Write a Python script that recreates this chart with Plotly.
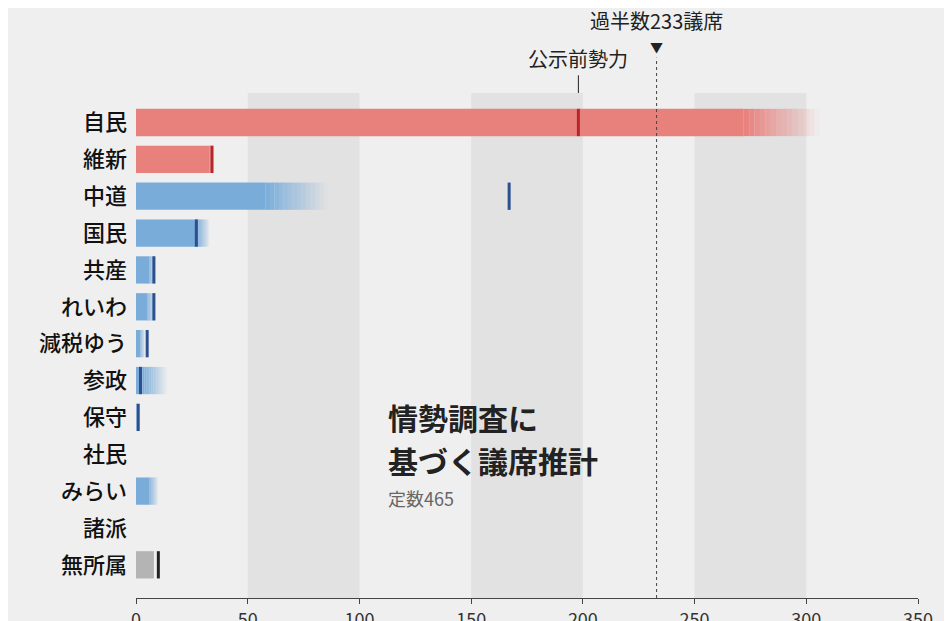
import plotly.graph_objects as go

parties = ["自民","維新","中道","国民","共産","れいわ","減税ゆう","参政","保守","社民","みらい","諸派","無所属"]
low  = [272, 33, 58, 28, 6, 5, 2, 3, 0, 0, 6, 0, 8]
high = [306, 35, 86, 33, 9, 9, 4, 14, 1, 0, 10, 0, 8]
prior = [198, 34, 167, 27, 8, 8, 5, 2, 1, None, None, None, 10]
kind = ["r","r","b","b","b","b","b","b","b","b","b","b","g"]
majority = 233
xticks = [0,50,100,150,200,250,300,350]

fill = {"r":"232,128,124","b":"122,172,218","g":"180,180,180"}
mark = {"r":"#b8262a","b":"#2b4f8f","g":"#222222"}

fig = go.Figure()
ys = list(range(len(parties)))
fig.add_trace(go.Bar(y=ys, x=low, orientation="h", width=0.74,
    marker=dict(color=["rgb(%s)" % fill[k] for k in kind], line=dict(width=0)), hoverinfo="skip"))
N = 14
for s in range(N):
    bases, widths, cols = [], [], []
    for i in range(len(parties)):
        d = (high[i]-low[i])/N
        bases.append(low[i]+s*d); widths.append(d)
        a = 1 - (s+0.5)/N
        cols.append("rgba(%s,%.3f)" % (fill[kind[i]], a))
    fig.add_trace(go.Bar(y=ys, x=widths, base=bases, orientation="h", width=0.74,
        marker=dict(color=cols, line=dict(width=0)), hoverinfo="skip"))
for i, p in enumerate(prior):
    if p is None: continue
    fig.add_shape(type="line", x0=p, x1=p, y0=i-0.37, y1=i+0.37, xref="x", yref="y",
                  line=dict(color=mark[kind[i]], width=3))

for a in (50,150,250):
    fig.add_shape(type="rect", x0=a, x1=a+50, y0=0, y1=1, xref="x", yref="paper",
                  fillcolor="#e2e2e2", line=dict(width=0), layer="below")
fig.add_shape(type="line", x0=majority, x1=majority, y0=0, y1=1.07, xref="x", yref="paper",
              line=dict(color="#444", width=1, dash="dot"))
fig.add_annotation(x=majority, y=1.07, xref="x", yref="paper", text="▼", showarrow=False,
                   yanchor="bottom", font=dict(size=13, color="#222"))
fig.add_annotation(x=majority, y=1.11, xref="x", yref="paper", text="過半数233議席", showarrow=False,
                   yanchor="bottom", font=dict(size=20, color="#222"))
fig.add_annotation(x=prior[0], y=1.035, xref="x", yref="paper", text="公示前勢力", showarrow=False,
                   yanchor="bottom", xanchor="center", font=dict(size=20, color="#222"))
fig.add_shape(type="line", x0=prior[0], x1=prior[0], y0=1.0, y1=1.035, xref="x", yref="paper",
              line=dict(color="#222", width=1))
fig.add_annotation(x=112, y=8.0, xref="x", yref="y", text="<b>情勢調査に</b>",
                   showarrow=False, xanchor="left", align="left", font=dict(size=30, color="#222"))
fig.add_annotation(x=112, y=9.15, xref="x", yref="y", text="<b>基づく議席推計</b>",
                   showarrow=False, xanchor="left", align="left", font=dict(size=30, color="#222"))
fig.add_annotation(x=112, y=10.2, xref="x", yref="y", text="定数465", showarrow=False,
                   xanchor="left", font=dict(size=18, color="#666"))

fig.update_layout(width=952, height=621, barmode="overlay", showlegend=False,
    paper_bgcolor="#efefef", plot_bgcolor="#efefef",
    margin=dict(l=128, r=42, t=85, b=31),
    font=dict(family="Noto Sans CJK JP", color="#222"),
    xaxis=dict(range=[0,350], tickvals=xticks, showgrid=False, zeroline=False, automargin=False,
               showline=True, linecolor="#444", ticks="outside", ticklen=5, tickcolor="#444",
               tickfont=dict(size=18, color="#333")),
    yaxis=dict(range=[12.9,-0.8], tickvals=ys, ticktext=parties, showgrid=False, zeroline=False,
               automargin=False, tickfont=dict(size=22, color="#111", weight=500), ticks="",
               ticklabelstandoff=8))
fig.write_html("out.html")
